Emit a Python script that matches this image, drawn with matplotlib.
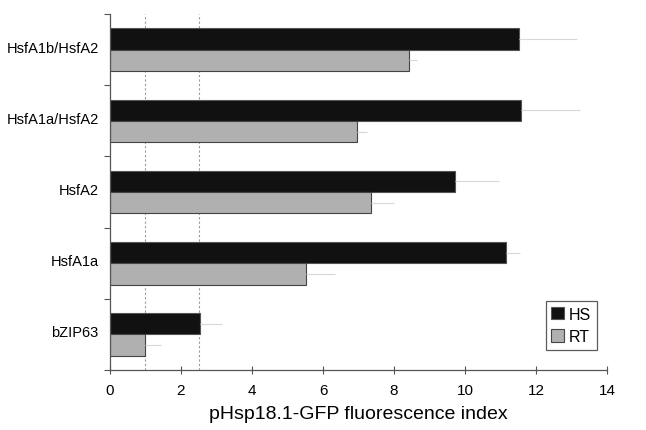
import numpy as np
import matplotlib
matplotlib.use('Agg')
import matplotlib.pyplot as plt

plt.rcParams['font.family'] = ['Liberation Sans', 'DejaVu Sans']

# Data (bottom to top)
constructs = ['bZIP63', 'HsfA1a', 'HsfA2', 'HsfA1a/HsfA2', 'HsfA1b/HsfA2']
hs_values = [2.54, 11.15, 9.72, 11.58, 11.52]
hs_errors = [0.61, 0.40, 1.24, 1.66, 1.63]
rt_values = [1.0, 5.52, 7.35, 6.96, 8.42]
rt_errors = [0.43, 0.82, 0.65, 0.27, 0.23]
x_ticks = [0, 2, 4, 6, 8, 10, 12, 14]
threshold_lines = [1.0, 2.5]

fig = plt.figure(figsize=(6.46, 4.31), dpi=100)
ax = fig.add_axes([0.170, 0.139, 0.770, 0.826])

y = np.arange(len(constructs))
bar_h = 0.30
err_style = dict(ecolor='#d8d8d8', elinewidth=0.8, capsize=0)

ax.barh(y + bar_h / 2, hs_values, height=bar_h, color='#111111',
        edgecolor='#555555', linewidth=0.8, label='HS', zorder=2,
        xerr=[np.zeros(len(hs_errors)), hs_errors], error_kw=err_style)
ax.barh(y - bar_h / 2, rt_values, height=bar_h, color='#b0b0b0',
        edgecolor='#444444', linewidth=0.8, label='RT', zorder=2,
        xerr=[np.zeros(len(rt_errors)), rt_errors], error_kw=err_style)

for xv in threshold_lines:
    ax.axvline(xv, color='#999999', linestyle=(0, (2, 2)), linewidth=0.8, zorder=1)

ax.set_xlim(0, 14)
ax.set_ylim(-0.5, len(constructs) - 0.5)
ax.set_xticks(x_ticks)
ax.set_xticklabels([str(t) for t in x_ticks], fontsize=11)
ax.tick_params(axis='x', direction='inout', length=6, width=0.8, color='#555555', pad=6)

# category labels centered, ticks on boundaries
ax.set_yticks(y + 0.05)
ax.set_yticklabels(constructs, fontsize=10.5)
ax.tick_params(axis='y', which='major', length=0, pad=8)
ax.set_yticks(np.arange(len(constructs) + 1) - 0.5, minor=True)
ax.tick_params(axis='y', which='minor', direction='out', length=4, width=0.8, color='#555555')

for side in ['top', 'right']:
    ax.spines[side].set_visible(False)
for side in ['left', 'bottom']:
    ax.spines[side].set_color('#555555')
    ax.spines[side].set_linewidth(0.9)

ax.set_xlabel('pHsp18.1-GFP fluorescence index', fontsize=14, labelpad=6)

leg = ax.legend(loc='lower right', bbox_to_anchor=(0.995, 0.035), fontsize=11.5,
                frameon=True, fancybox=False, handlelength=0.8, handleheight=0.8,
                handletextpad=0.3, borderpad=0.35, labelspacing=0.45)
leg.get_frame().set_edgecolor('#333333')
leg.get_frame().set_linewidth(0.9)

fig.savefig('out.png', dpi=100)
